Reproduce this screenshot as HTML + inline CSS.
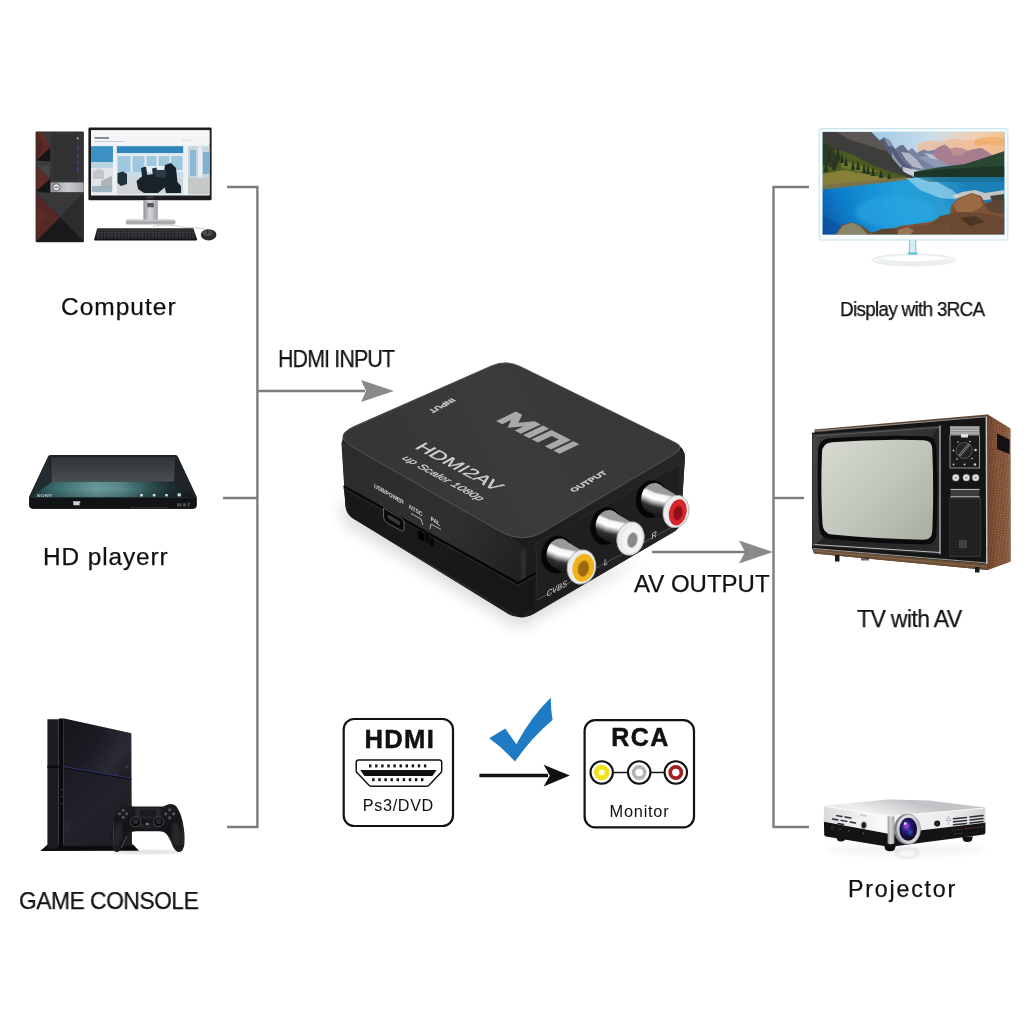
<!DOCTYPE html>
<html><head><meta charset="utf-8">
<style>
html,body{margin:0;padding:0;background:#fff;}
body{width:1024px;height:1024px;overflow:hidden;position:relative;font-family:"Liberation Sans",sans-serif;}
svg{position:absolute;left:0;top:0;will-change:transform;}
.t{position:absolute;will-change:transform;transform-origin:0 0;white-space:nowrap;color:#111;line-height:1;-webkit-text-stroke:0.25px #111;}
svg text{font-family:"Liberation Sans",sans-serif;}
</style></head><body>
<svg width="1024" height="1024" viewBox="0 0 1024 1024">
<defs>
<filter id="blur8" x="-30%" y="-100%" width="160%" height="300%"><feGaussianBlur stdDeviation="8"/></filter>
<filter id="blur3" x="-30%" y="-100%" width="160%" height="300%"><feGaussianBlur stdDeviation="3"/></filter>
<filter id="blur1" x="-10%" y="-10%" width="120%" height="120%"><feGaussianBlur stdDeviation="0.8"/></filter>
<linearGradient id="bxT" gradientUnits="userSpaceOnUse" x1="400" y1="500" x2="620" y2="390"><stop offset="0" stop-color="#363636"/><stop offset="0.5" stop-color="#3b3b3b"/><stop offset="1" stop-color="#383838"/></linearGradient>
<linearGradient id="bxL" gradientUnits="userSpaceOnUse" x1="345" y1="470" x2="520" y2="570"><stop offset="0" stop-color="#2c2c2c"/><stop offset="0.6" stop-color="#303030"/><stop offset="1" stop-color="#212121"/></linearGradient>
<linearGradient id="bxR" gradientUnits="userSpaceOnUse" x1="525" y1="580" x2="683" y2="490"><stop offset="0" stop-color="#1c1c1c"/><stop offset="1" stop-color="#262626"/></linearGradient>
<pattern id="wood" width="3" height="2.4" patternUnits="userSpaceOnUse" patternTransform="rotate(8)"><rect width="3" height="2.4" fill="#875438"/><rect width="1.6" height="1.1" fill="#9b6848"/><rect x="1.6" y="1.2" width="1.4" height="1.2" fill="#6e4129"/></pattern>
<linearGradient id="tvscr" gradientUnits="userSpaceOnUse" x1="830" y1="445" x2="930" y2="540"><stop offset="0" stop-color="#d4d8cf"/><stop offset="0.5" stop-color="#c1c6bc"/><stop offset="1" stop-color="#a9aea5"/></linearGradient>
<linearGradient id="tvbez" gradientUnits="userSpaceOnUse" x1="813" y1="430" x2="940" y2="555"><stop offset="0" stop-color="#3a3a3a"/><stop offset="0.5" stop-color="#232323"/><stop offset="1" stop-color="#2c2c2c"/></linearGradient>
<linearGradient id="tvside" gradientUnits="userSpaceOnUse" x1="987" y1="0" x2="1011" y2="0"><stop offset="0" stop-color="#000" stop-opacity="0.18"/><stop offset="0.5" stop-color="#000" stop-opacity="0"/><stop offset="1" stop-color="#fff" stop-opacity="0.12"/></linearGradient>
<pattern id="grille" width="1.6" height="1.6" patternUnits="userSpaceOnUse"><rect width="1.6" height="1.6" fill="#1d1d1d"/><rect width="0.8" height="0.8" fill="#2c2c2c"/></pattern>
<linearGradient id="psTop" gradientUnits="userSpaceOnUse" x1="63" y1="720" x2="131" y2="775"><stop offset="0" stop-color="#15151b"/><stop offset="0.45" stop-color="#1b1b23"/><stop offset="0.75" stop-color="#2a2a34"/><stop offset="1" stop-color="#1c1c24"/></linearGradient>
<linearGradient id="psBot" gradientUnits="userSpaceOnUse" x1="63" y1="770" x2="131" y2="845"><stop offset="0" stop-color="#1b1b23"/><stop offset="0.5" stop-color="#22222b"/><stop offset="1" stop-color="#1c1c24"/></linearGradient>
<linearGradient id="dsBody" gradientUnits="userSpaceOnUse" x1="111" y1="804" x2="111" y2="852"><stop offset="0" stop-color="#1c1c1e"/><stop offset="0.5" stop-color="#141416"/><stop offset="1" stop-color="#1e1e22"/></linearGradient>
<linearGradient id="bdTop" gradientUnits="userSpaceOnUse" x1="0" y1="456" x2="0" y2="482"><stop offset="0" stop-color="#303336"/><stop offset="1" stop-color="#4a4e51"/></linearGradient>
<linearGradient id="bdSlope" gradientUnits="userSpaceOnUse" x1="30" y1="0" x2="196" y2="0"><stop offset="0" stop-color="#1d3a3c"/><stop offset="0.15" stop-color="#3a6c6e"/><stop offset="0.4" stop-color="#6a9c9c"/><stop offset="0.55" stop-color="#5a8a8b"/><stop offset="0.7" stop-color="#33585a"/><stop offset="0.85" stop-color="#1c2e31"/><stop offset="1" stop-color="#151d20"/></linearGradient>
<linearGradient id="bdSlopeV" gradientUnits="userSpaceOnUse" x1="0" y1="481" x2="0" y2="498"><stop offset="0" stop-color="#000" stop-opacity="0.08"/><stop offset="0.5" stop-color="#000" stop-opacity="0"/><stop offset="1" stop-color="#000" stop-opacity="0.22"/></linearGradient>
<linearGradient id="pcSilver" gradientUnits="userSpaceOnUse" x1="50" y1="0" x2="84" y2="0"><stop offset="0" stop-color="#8e9094"/><stop offset="0.5" stop-color="#c9cbcf"/><stop offset="1" stop-color="#a6a8ac"/></linearGradient>
<linearGradient id="pcNeck" gradientUnits="userSpaceOnUse" x1="143" y1="0" x2="158" y2="0"><stop offset="0" stop-color="#8a8c8f"/><stop offset="0.45" stop-color="#d6d7d9"/><stop offset="1" stop-color="#9a9c9f"/></linearGradient>
<linearGradient id="kb" gradientUnits="userSpaceOnUse" x1="0" y1="228" x2="0" y2="241"><stop offset="0" stop-color="#2a2a2c"/><stop offset="1" stop-color="#101012"/></linearGradient>
<pattern id="keys" width="3.4" height="2.6" patternUnits="userSpaceOnUse" x="97" y="229.5"><rect width="2.6" height="1.9" fill="#3b3b3f"/></pattern>
<clipPath id="pcScr"><rect x="91" y="130.2" width="118.6" height="65.3"/></clipPath>
<clipPath id="monScr"><rect x="822.7" y="131.9" width="181.7" height="102.5"/></clipPath>
<linearGradient id="sky" gradientUnits="userSpaceOnUse" x1="870" y1="135" x2="1004" y2="150"><stop offset="0" stop-color="#9ec9e6"/><stop offset="0.45" stop-color="#c9dcea"/><stop offset="0.75" stop-color="#f0d0b4"/><stop offset="1" stop-color="#f3c48e"/></linearGradient>
<linearGradient id="lake" gradientUnits="userSpaceOnUse" x1="823" y1="234" x2="960" y2="170"><stop offset="0" stop-color="#0a55a4"/><stop offset="0.22" stop-color="#0e80cc"/><stop offset="0.55" stop-color="#1f9edb"/><stop offset="0.8" stop-color="#2a9bd0"/><stop offset="1" stop-color="#1c7fb8"/></linearGradient>
<filter id="blurp" x="-5%" y="-5%" width="110%" height="110%"><feGaussianBlur stdDeviation="0.7"/></filter>
<filter id="blur2" x="-20%" y="-20%" width="140%" height="140%"><feGaussianBlur stdDeviation="2"/></filter>
<linearGradient id="pjTop" gradientUnits="userSpaceOnUse" x1="900" y1="799" x2="895" y2="817"><stop offset="0" stop-color="#c2c3c6"/><stop offset="1" stop-color="#ececee"/></linearGradient>
<linearGradient id="pjL" gradientUnits="userSpaceOnUse" x1="824" y1="0" x2="890" y2="0"><stop offset="0" stop-color="#d9dadd"/><stop offset="0.6" stop-color="#f2f2f4"/><stop offset="1" stop-color="#fafafa"/></linearGradient>
<linearGradient id="pjR" gradientUnits="userSpaceOnUse" x1="893" y1="0" x2="986" y2="0"><stop offset="0" stop-color="#f4f4f5"/><stop offset="0.6" stop-color="#ebebed"/><stop offset="1" stop-color="#d2d3d6"/></linearGradient>
<linearGradient id="pjEdge" gradientUnits="userSpaceOnUse" x1="887" y1="0" x2="894.5" y2="0"><stop offset="0" stop-color="#8e9093"/><stop offset="0.5" stop-color="#d4d5d7"/><stop offset="1" stop-color="#9a9c9f"/></linearGradient>
<radialGradient id="pjLens" cx="0.42" cy="0.4" r="0.65"><stop offset="0" stop-color="#6b3fd0"/><stop offset="0.35" stop-color="#2a1a78"/><stop offset="0.7" stop-color="#140c3c"/><stop offset="1" stop-color="#0a0a14"/></radialGradient>
<linearGradient id="pjRing" gradientUnits="userSpaceOnUse" x1="897" y1="816" x2="920" y2="844"><stop offset="0" stop-color="#f4f4f6"/><stop offset="0.5" stop-color="#b9bbbf"/><stop offset="1" stop-color="#e6e6e9"/></linearGradient>

</defs>
<!-- lines.svg -->
<g id="lines" fill="none" stroke="#7d7d7d" stroke-width="2.4">
<path d="M227 187H257.4V827H227"/>
<path d="M223 498H257"/>
<path d="M257 391H365"/>
<path d="M809 187H773.5V827H809"/>
<path d="M773 498H804"/>
<path d="M652 552H745"/>
</g>
<g id="arrows" fill="#8a8a8a">
<path d="M361 380L394 391L361 402L366 391Z"/>
<path d="M739 540.5L773 552L739 563.5L745 552Z"/>
</g>

<!-- computer.svg -->
<g id="computer">
<!-- tower -->
<rect x="35.6" y="131.4" width="48.2" height="110.8" rx="1.2" fill="#2a2a2c"/>
<!-- upper left column triangles -->
<rect x="36.2" y="132" width="14.2" height="61" fill="#2e2e30"/>
<path d="M36.2 132.3H43.4L50.4 147.6L36.2 160.4Z" fill="#5c2b28"/>
<path d="M36.2 132.3L44 146L36.2 160.4Z" fill="#4a2322" opacity="0.7"/>
<path d="M43.4 132.3H50.4V147.6Z" fill="#3a3a3c"/>
<path d="M50.4 147.6V161.6L36.2 160.4Z" fill="#151517"/>
<path d="M36.2 160.4L50.4 161.6V165L36.2 165.3Z" fill="#3c3c3e"/>
<path d="M36.2 165.3L50.2 178.7L36.2 190.9Z" fill="#5c2b28"/>
<path d="M36.2 165.3L50.4 165V178.7Z" fill="#454547"/>
<path d="M50.4 178.7V193L36.2 190.9Z" fill="#151517"/>
<!-- drive panel -->
<rect x="50.4" y="132" width="33" height="50.4" fill="#363638"/>
<rect x="52.5" y="134" width="22" height="46" fill="#313133"/>
<path d="M75.8 132V182" stroke="#222" stroke-width="0.6"/>
<circle cx="77.6" cy="138.2" r="1" fill="#b8b8bc"/>
<g fill="#2d4a9a"><rect x="76.8" y="147" width="1.6" height="3.4"/><rect x="76.8" y="154" width="1.6" height="3.4"/><rect x="76.8" y="161" width="1.6" height="3.4"/><rect x="76.8" y="168" width="1.6" height="3.4"/></g>
<!-- silver band -->
<rect x="50.4" y="182.4" width="33.2" height="9.8" fill="url(#pcSilver)"/>
<circle cx="56.4" cy="187.3" r="3.6" fill="#dfe0e3" stroke="#55575a" stroke-width="0.8"/>
<path d="M54.4 187.3H58.4" stroke="#55575a" stroke-width="0.9"/>
<!-- lower X -->
<rect x="36.2" y="193" width="47.2" height="48.6" fill="#1c1c1e"/>
<path d="M36.2 193H83.4L60 217.5Z" fill="#39393b"/>
<path d="M36.2 193L60 217.5L36.2 241.6Z" fill="#552826"/>
<path d="M83.4 193L60 217.5L83.4 241.6Z" fill="#2c2c2e"/>
<path d="M36.2 241.6L60 217.5L83.4 241.6Z" fill="#19191b"/>
<path d="M36.2 205L48 217.5L36.2 230Z" fill="#63302c" opacity="0.4"/>
<!-- monitor -->
<rect x="88.4" y="127.6" width="123.2" height="72.6" rx="1.2" fill="#1d1d20"/>
<rect x="91" y="130.2" width="118.6" height="65.3" fill="#eef1f4"/>
<g clip-path="url(#pcScr)"><g filter="url(#blurp)">
<rect x="91" y="130.2" width="118.6" height="14" fill="#f4f5f7"/>
<rect x="94.5" y="137" width="14.5" height="2" fill="#8a8f96"/>
<rect x="94.5" y="141" width="30" height="1" fill="#c6cad0"/>
<rect x="182" y="139.5" width="10" height="1.6" fill="#dfe2e6"/>
<!-- left image -->
<rect x="91" y="146.2" width="22" height="47" fill="#dfe4e8"/>
<rect x="91" y="146.2" width="22" height="16" fill="#3c90c2"/>
<rect x="91" y="162" width="22" height="6" fill="#bcd4e2"/>
<path d="M93 172L99 168.5L104 171V179H93Z" fill="#c2c6ca"/>
<path d="M101 181L112 176V187H101Z" fill="#aeb6bc"/>
<rect x="92" y="186" width="20" height="6" fill="#8ea6b6" opacity="0.8"/>
<!-- centre image -->
<rect x="116.8" y="146.2" width="66.4" height="48" fill="#e4edf2"/>
<rect x="116.8" y="146.2" width="66.4" height="7" fill="#2f86bc"/>
<rect x="116.8" y="153.2" width="66.4" height="1.4" fill="#dce8ef"/>
<g fill="#9fc8df"><rect x="117.5" y="156" width="13" height="16"/><rect x="132.5" y="156" width="12" height="16"/><rect x="146.5" y="156" width="10" height="10"/><rect x="158.5" y="156" width="11" height="10"/><rect x="171" y="156" width="11.5" height="14"/></g>
<rect x="116.8" y="172" width="66.4" height="5" fill="#c6dce8"/>
<rect x="116.8" y="177" width="66.4" height="17.2" fill="#d0d6da"/>
<path d="M117.5 173L123 171.5L127 174V184L121 186L117.5 183Z" fill="#20303c"/>
<path d="M141 168L146 166.5L147.5 176H142Z" fill="#1c2a36"/>
<path d="M152 168.5L156.5 167.5L158 176H153Z" fill="#223240"/>
<path d="M136.5 181L143 175.5L153 174L163 177L166.5 186L158 193L144 193L138 189Z" fill="#1a222a"/>
<path d="M165 165L171 163L176 168L177.5 182L181 186V193H166L163 180Z" fill="#16202a"/>
<path d="M156 170H166V177H156Z" fill="#2a3a48"/>
<!-- right image -->
<rect x="188" y="146.2" width="21.6" height="48" fill="#c9d7e0"/>
<rect x="190" y="150" width="6" height="26" fill="#8fb8d4"/>
<rect x="198" y="147" width="4" height="30" fill="#e9eef2"/>
<rect x="203" y="152" width="6.6" height="22" fill="#7fb0d0"/>
<rect x="188" y="178" width="21.6" height="16.2" fill="#c4c8c6"/>
</g></g>
<rect x="146.5" y="196.4" width="7" height="2.2" fill="#3a3a3e"/>
<!-- stand -->
<rect x="143.4" y="200.2" width="14.4" height="20.5" fill="url(#pcNeck)"/>
<rect x="147.2" y="203" width="6.6" height="4.2" fill="#55575a"/>
<path d="M125.8 221.2Q125.8 219.4 128 219.4H173.2Q175.4 219.4 175.4 221.2V223Q175.4 224.6 173.2 224.6H128Q125.8 224.6 125.8 223Z" fill="#a9abae"/>
<path d="M126 220.2H175.2" stroke="#dadbdd" stroke-width="0.9"/>
<!-- keyboard -->
<path d="M97.2 228.2H193.4L197 239.2Q197.2 240.4 195.8 240.4H95.2Q94 240.4 94.2 239.2Z" fill="url(#kb)"/>
<path d="M98 229.5H192.8L195.3 238.4H96Z" fill="url(#keys)"/>
<!-- mouse -->
<path d="M153 226.5Q165 223 184 227.5Q200 227 207.5 230" stroke="#9a9a9a" stroke-width="0.5" fill="none"/>
<ellipse cx="208.6" cy="234.8" rx="7.8" ry="5.6" fill="#2b2b2e"/>
<ellipse cx="207.6" cy="233.2" rx="5.2" ry="3" fill="#4a4a4e"/>
<path d="M207.5 229.5V234" stroke="#1a1a1c" stroke-width="0.7"/>
</g>

<!-- bluray.svg -->
<g id="bluray">
<!-- outer body -->
<path d="M48 456.5Q48.3 455 50.5 455H175.5Q177.5 455 177.8 456.5L196.6 496.5V505Q196.6 508.8 192.5 508.8H33.5Q29.2 508.8 29.2 505V496.5Z" fill="#1d2225"/>
<!-- top flat -->
<path d="M51 457.2H175L174.2 481.8H51.6Z" fill="url(#bdTop)"/>
<!-- sloped front -->
<path d="M51.6 481.8H174.2L196 497.5H30Z" fill="url(#bdSlope)"/>
<path d="M51.6 481.8H174.2L196 497.5H30Z" fill="url(#bdSlopeV)"/>
<!-- side bevels -->
<path d="M48.5 456.5L51.6 481.8L30 497.5Z" fill="#252c2f"/>
<path d="M177.5 456.5L174.2 481.8L196 497.5Z" fill="#1e2427"/>
<!-- front vertical -->
<path d="M29.2 497.5H196.6V505Q196.6 508.8 192.5 508.8H33.5Q29.2 508.8 29.2 505Z" fill="#111315"/>
<path d="M29.5 497.6H196.4" stroke="#2b3436" stroke-width="0.7"/>
<!-- sony -->
<text x="36.5" y="497" font-size="4.2" font-weight="bold" fill="#b8c4c4" textLength="16" lengthAdjust="spacingAndGlyphs">SONY</text>
<!-- bluray logo -->
<path d="M73 501.2H79Q80.6 501.2 80.4 502.6Q80.2 503.6 79 503.8L80 505.2H73.5Z" fill="#cfd3d6"/>
<!-- buttons -->
<g fill="#d8e2e2"><rect x="140.2" y="494" width="2.6" height="2.4"/><rect x="152.8" y="494" width="2.6" height="2.4"/><rect x="165.2" y="494" width="2.6" height="2.4"/><rect x="177.6" y="493.4" width="3.2" height="3"/></g>
<!-- small details -->
<path d="M131 507.6H168" stroke="#60686a" stroke-width="0.7" stroke-dasharray="1.2 1.4"/>
<path d="M177 503.2H181.5V506.6H177ZM183 503.2H186V506.6H183ZM188 502.5L190 502.5L189 506.6H187.5Z" fill="#4a5052"/>
</g>

<!-- ps4.svg -->
<g id="ps4">
<!-- stand -->
<path d="M40.3 851L47.6 844.5H133L139 850.8Z" fill="#0b0b0e"/>
<!-- front narrow face -->
<path d="M47.4 719.2H58.8V848.5H47.4Z" fill="#1b1b22"/>
<rect x="47.4" y="765.8" width="12.6" height="2" fill="#08080b"/>
<!-- gap -->
<rect x="58.8" y="718.5" width="4.6" height="130" fill="#0a0a0d"/>
<!-- side upper (glossy) -->
<path d="M63.2 718.3L131.3 733.2L131.5 778.2L63.2 766.4Z" fill="url(#psTop)"/>
<path d="M78 721.6L131.3 733.2L131.4 760L100 726.5Z" fill="#2c2c38" opacity="0.35"/>
<!-- side lower (matte) -->
<path d="M63.2 766.4L131.5 778.2L132 846H63.2Z" fill="url(#psBot)"/>
<!-- seam -->
<path d="M63.2 766.6L131.5 778.3" stroke="#26276a" stroke-width="0.9"/>
<path d="M63.2 767.8L131.5 779.5" stroke="#0c0c12" stroke-width="1"/>
<!-- front details -->
<g fill="#3a3a48"><rect x="60.5" y="789" width="2" height="1.2"/><rect x="60.5" y="796" width="2" height="1.2"/><rect x="60.5" y="803" width="2" height="1.2"/></g>
<path d="M65.5 822V832M68 822V832" stroke="#33333f" stroke-width="0.9"/>
<rect x="125.5" y="765" width="3" height="3.5" fill="#3a3a4a" opacity="0.8"/>
<!-- controller -->
<g id="ds4">
<ellipse cx="148" cy="852" rx="36" ry="2.2" fill="#000" opacity="0.12" filter="url(#blur1)"/>
<path d="M121 806.2Q124.5 803.6 128.5 804.6L133 806.6H163L168.5 804.2Q172.5 803.2 176 806Q180.5 812 182.5 821Q185.2 833 184.4 844Q183.5 851.5 179.5 852Q175.5 852 173 846.5Q169.5 837.5 166 833.5Q163 830.8 158 831.2H137.5Q132 830.8 129.5 833.5Q126 837.5 122.5 846.5Q120 852 116.5 852Q112.3 851.5 111.4 844Q110.6 833 113.4 821Q115.5 812 121 806.2Z" fill="url(#dsBody)"/>
<ellipse cx="176.5" cy="834" rx="4.5" ry="12" fill="#2e2e36" opacity="0.7" filter="url(#blur1)" transform="rotate(-8 176.5 834)"/>
<ellipse cx="118" cy="834" rx="4" ry="12" fill="#2a2a32" opacity="0.7" filter="url(#blur1)" transform="rotate(8 118 834)"/>
<ellipse cx="147.5" cy="826" rx="12" ry="3" fill="#2a2a30" opacity="0.6" filter="url(#blur1)"/>
<!-- touchpad -->
<path d="M134.5 807.8H161.5L160.5 818.5H135.5Z" fill="#26262b"/>
<path d="M140 809.5H156V816.5H140Z" fill="#1b1b20"/>
<!-- sticks -->
<g><circle cx="135.6" cy="821.8" r="5" fill="#0a0a0c" stroke="#4a4a50" stroke-width="1"/><circle cx="135.6" cy="821.3" r="2.8" fill="#2a2a2f"/>
<circle cx="158.6" cy="821.8" r="5" fill="#0a0a0c" stroke="#4a4a50" stroke-width="1"/><circle cx="158.6" cy="821.3" r="2.8" fill="#2a2a2f"/></g>
<!-- dpad and buttons -->
<g fill="#55555c"><circle cx="123.2" cy="810.2" r="1.5"/><circle cx="119.6" cy="813.8" r="1.5"/><circle cx="126.6" cy="813.8" r="1.5"/><circle cx="123.2" cy="817.2" r="1.5"/>
<circle cx="169.6" cy="809.8" r="1.6"/><circle cx="165.6" cy="813.8" r="1.6"/><circle cx="173.6" cy="813.8" r="1.6"/><circle cx="169.6" cy="817.8" r="1.6"/></g>
<circle cx="147.3" cy="824" r="1.2" fill="#8a8a92"/>
<!-- highlights -->
<path d="M114 822Q112.5 834 113.8 845" stroke="#3c3c42" stroke-width="1" fill="none"/>
<path d="M127 836Q123.5 842 121.5 848" stroke="#55555c" stroke-width="0.9" fill="none"/>
<path d="M181.8 822Q183.6 834 182.6 845" stroke="#34343a" stroke-width="1" fill="none"/>
<path d="M168.5 836Q172 842 174 848" stroke="#3a3a40" stroke-width="0.9" fill="none"/>
</g>
</g>

<!-- box.svg -->
<g id="box">
<path d="M338 500L346 524L520 628L640 560L520 590Z" fill="#000" opacity="0.15" filter="url(#blur8)"/>
<path d="M342.0 444.8Q341.3 431.8 353.2 426.6L491.3 365.8Q505.9 359.4 520.3 366.4L674.7 442.2Q685.5 447.5 684.8 459.5L681.0 520.0Q680.5 528.0 673.6 532.0L534.3 613.4Q520.5 621.5 506.9 613.1L353.7 518.7Q346.0 514.0 345.5 505.0Z" fill="#1a1a1a"/>
<path d="M341.4 442.6Q341.3 441.6 342.2 442.1L517.3 541.0Q522.5 544.0 522.3 550.0L520.9 605.5Q520.5 621.5 506.9 613.1L353.7 518.7Q346.0 514.0 345.4 505.0Z" fill="url(#bxL)"/>
<path d="M522.3 550.0Q522.5 544.0 527.7 540.9L676.9 452.6Q685.5 447.5 684.9 457.5L681.0 520.0Q680.5 528.0 673.6 532.0L534.3 613.4Q520.5 621.5 520.9 605.5Z" fill="url(#bxR)"/>
<path d="M524.5 552L522 606" stroke="#444" stroke-width="9" opacity="0.5" stroke-linecap="round" filter="url(#blur3)"/>
<path d="M343.5 487L518 584L536 574L534 606Q526 612 520.5 616Q514 614 508 610L354 519Q346.5 514.5 346 508Z" fill="#151515" opacity="0.85"/>
<path d="M343.5 486L518 583L536 573" fill="none" stroke="#050505" stroke-width="2"/>
<path d="M343.5 488.5L518 585.5L536 575.5" fill="none" stroke="#3a3a3a" stroke-width="0.8" opacity="0.7"/>
<path d="M352.1 446.9Q333.0 436.0 353.1 427.1L491.3 365.9Q505.9 359.4 520.3 366.4L674.7 442.2Q685.5 447.5 675.2 453.6L543.2 531.8Q522.5 544.0 501.6 532.1Z" fill="url(#bxT)"/>
<path d="M352.1 446.9Q333.0 436.0 353.1 427.1L491.3 365.9Q505.9 359.4 520.3 366.4L674.7 442.2Q685.5 447.5 675.2 453.6L543.2 531.8Q522.5 544.0 501.6 532.1Z" fill="none" stroke="#6a6a6a" stroke-width="0.9" opacity="0.75"/>

<path d="M536 543L680 464.5L679.5 523L537 600Z" fill="#1f1f1f" stroke="#2e2e2e" stroke-width="0.8"/>
<path d="M537 600L679.5 523" stroke="#555" stroke-width="0.8" fill="none"/>
<ellipse cx="651.5" cy="499.0" rx="15.5" ry="19" transform="rotate(12 651.5 499.0)" fill="#060606"/>
<linearGradient id="g676" gradientUnits="userSpaceOnUse" x1="679.1" y1="496.8" x2="672.9" y2="526.2"><stop offset="0" stop-color="#9a9a9a"/><stop offset="0.07" stop-color="#f4f4f4"/><stop offset="0.24" stop-color="#ffffff"/><stop offset="0.33" stop-color="#bdbdbd"/><stop offset="0.42" stop-color="#6e6e6e"/><stop offset="0.5" stop-color="#2e2e2e"/><stop offset="0.8" stop-color="#161616"/><stop offset="0.9" stop-color="#4a4a4a"/><stop offset="1" stop-color="#8a8a8a"/></linearGradient>
<ellipse cx="653.5" cy="498.0" rx="12.3" ry="15" transform="rotate(12 653.5 498.0)" fill="url(#g676)"/>
<path d="M656.6 483.3L679.1 496.8L672.9 526.2L650.4 512.7Z" fill="url(#g676)"/>
<ellipse cx="676" cy="511.5" rx="12.9" ry="16.4" transform="rotate(12 676 511.5)" fill="#ececec" stroke="#a8a8a8" stroke-width="0.8"/>
<ellipse cx="677.9" cy="511.9" rx="8.7" ry="13.3" transform="rotate(12 676 511.5)" fill="#d8262f"/>
<ellipse cx="678.2" cy="512.7" rx="4.4" ry="7.2" transform="rotate(12 676 511.5)" fill="#8c1018" stroke="#b01820" stroke-width="0.8"/>
<ellipse cx="606.0" cy="526.0" rx="15.5" ry="19" transform="rotate(12 606.0 526.0)" fill="#060606"/>
<linearGradient id="g630" gradientUnits="userSpaceOnUse" x1="633.6" y1="523.8" x2="627.4" y2="553.2"><stop offset="0" stop-color="#9a9a9a"/><stop offset="0.07" stop-color="#f4f4f4"/><stop offset="0.24" stop-color="#ffffff"/><stop offset="0.33" stop-color="#bdbdbd"/><stop offset="0.42" stop-color="#6e6e6e"/><stop offset="0.5" stop-color="#2e2e2e"/><stop offset="0.8" stop-color="#161616"/><stop offset="0.9" stop-color="#4a4a4a"/><stop offset="1" stop-color="#8a8a8a"/></linearGradient>
<ellipse cx="608.0" cy="525.0" rx="12.3" ry="15" transform="rotate(12 608.0 525.0)" fill="url(#g630)"/>
<path d="M611.1 510.3L633.6 523.8L627.4 553.2L604.9 539.7Z" fill="url(#g630)"/>
<ellipse cx="630.5" cy="538.5" rx="13.6" ry="16.9" transform="rotate(12 630.5 538.5)" fill="#ececec" stroke="#a8a8a8" stroke-width="0.8"/>
<ellipse cx="632.4" cy="538.9" rx="9.7" ry="13.7" transform="rotate(12 630.5 538.5)" fill="#f4f4f4"/>
<ellipse cx="632.7" cy="539.7" rx="4.9" ry="7.6" transform="rotate(12 630.5 538.5)" fill="#8a8a8a" stroke="#b8b8b8" stroke-width="0.8"/>
<ellipse cx="557.0" cy="554.5" rx="15.5" ry="19" transform="rotate(12 557.0 554.5)" fill="#060606"/>
<linearGradient id="g581" gradientUnits="userSpaceOnUse" x1="584.6" y1="552.3" x2="578.4" y2="581.7"><stop offset="0" stop-color="#9a9a9a"/><stop offset="0.07" stop-color="#f4f4f4"/><stop offset="0.24" stop-color="#ffffff"/><stop offset="0.33" stop-color="#bdbdbd"/><stop offset="0.42" stop-color="#6e6e6e"/><stop offset="0.5" stop-color="#2e2e2e"/><stop offset="0.8" stop-color="#161616"/><stop offset="0.9" stop-color="#4a4a4a"/><stop offset="1" stop-color="#8a8a8a"/></linearGradient>
<ellipse cx="559.0" cy="553.5" rx="12.3" ry="15" transform="rotate(12 559.0 553.5)" fill="url(#g581)"/>
<path d="M562.1 538.8L584.6 552.3L578.4 581.7L555.9 568.2Z" fill="url(#g581)"/>
<ellipse cx="581.5" cy="567" rx="14.3" ry="17.3" transform="rotate(12 581.5 567)" fill="#ececec" stroke="#a8a8a8" stroke-width="0.8"/>
<ellipse cx="583.4" cy="567.4" rx="10.7" ry="14.1" transform="rotate(12 581.5 567)" fill="#f2b21c"/>
<ellipse cx="583.7" cy="568.2" rx="5.4" ry="8.0" transform="rotate(12 581.5 567)" fill="#9a6a10" stroke="#c98a10" stroke-width="0.8"/>
<g fill="#d8d8d8" font-size="8" font-style="italic">
<text transform="matrix(0.87 -0.49 0.05 1 547 597)" font-size="8.5">CVBS</text>
<text transform="matrix(0.87 -0.49 0.05 1 604 566)" font-size="8.5">L</text>
<text transform="matrix(0.87 -0.49 0.05 1 651.5 539.5)" font-size="8.5">R</text>
</g>
<g fill="#cfcfcf">
<text transform="matrix(0.86 0.50 -0.03 1 374 487.5)" font-size="6" font-weight="bold" letter-spacing="-0.3">USB/POWER</text>
<text transform="matrix(0.86 0.50 -0.03 1 409 508.5)" font-size="6" font-weight="bold" letter-spacing="-0.2">NTSC</text>
<text transform="matrix(0.86 0.50 -0.03 1 430.5 520.5)" font-size="6" font-weight="bold" letter-spacing="-0.2">PAL</text>
</g>
<path d="M383.5 508L401 518Q404 520 404 523L404 529Q404 532 401 530.5L388 523.5Q383.5 521 383.5 516Z" fill="#0a0a0a" stroke="#6a6a6a" stroke-width="0.9"/>
<path d="M388 514.5L400 521.5L400 525.5L388 518.5Z" fill="#3a3a3a"/>
<path d="M411 513.5L421 519L423 525" fill="none" stroke="#cfcfcf" stroke-width="0.8"/>
<path d="M441 529.5L431 524L430 529" fill="none" stroke="#cfcfcf" stroke-width="0.8"/>
<path d="M418 530L433 538.5L433.5 547L418.5 538.5Z" fill="#020202"/>
<path d="M424 531L430 534.5L430.5 545L424.5 541.5Z" fill="#0c0c0c" stroke="#2a2a2a" stroke-width="0.5"/>
<g fill="#d2d2d2" stroke="#d2d2d2" stroke-width="0.25">
<text transform="matrix(0.88 0.475 -0.86 0.50 414 447.7)" font-size="17.5" textLength="92" lengthAdjust="spacingAndGlyphs">HDMI2AV</text>
<text transform="matrix(0.88 0.48 -0.86 0.50 401.5 458.5)" font-size="10" font-style="italic" textLength="89" lengthAdjust="spacingAndGlyphs">up Scaler 1080p</text>
<text transform="matrix(0.87 -0.5 0.86 0.46 574 492.5)" font-size="8.2" font-weight="bold" textLength="39" lengthAdjust="spacingAndGlyphs">OUTPUT</text>
<text transform="matrix(-0.87 0.46 -0.86 -0.47 451.5 398)" font-size="8" font-weight="bold" textLength="27" lengthAdjust="spacingAndGlyphs">INPUT</text>
</g>
<g transform="matrix(0.889 0.458 -0.905 0.427 496 421)" fill="#a9a9a9">
<path d="M0 0V-22H7L14 -11L21 -22H28V0H21V-10L14 1L7 -10V0Z"/>
<rect x="30.5" y="-22" width="7" height="22"/>
<path d="M40 0V-22H62V0H55V-15.5H47V0Z"/>
<rect x="64.5" y="-22" width="7" height="22"/>
</g>
</g>
<!-- icons.svg -->
<g id="icons">
<!-- HDMI box -->
<rect x="343.7" y="719" width="109.3" height="107" rx="10.5" fill="#fff" stroke="#111" stroke-width="2.2"/>
<text x="364.4" y="748.4" font-size="25.6" font-weight="bold" fill="#111" stroke="#111" stroke-width="0.5" textLength="69.5" lengthAdjust="spacing">HDMI</text>
<path d="M358.6 759.9H439.3Q441.7 759.9 441.7 762.3V770.5Q441.7 772.3 440.3 773.3L429 785.2Q427.8 786.3 426 786.3H372Q370.2 786.3 369 785.2L357.6 773.3Q356.2 772.3 356.2 770.5V762.3Q356.2 759.9 358.6 759.9Z" fill="#fff" stroke="#111" stroke-width="1.5"/>
<path d="M360.2 769.9H436.6L432.4 775.9H364.4Z" fill="#111"/>
<g fill="#111">
<rect x="369" y="764.4" width="2.4" height="3"/><rect x="375.1" y="764.4" width="2.4" height="3"/><rect x="381.2" y="764.4" width="2.4" height="3"/><rect x="387.3" y="764.4" width="2.4" height="3"/><rect x="393.4" y="764.4" width="2.4" height="3"/><rect x="399.5" y="764.4" width="2.4" height="3"/><rect x="405.6" y="764.4" width="2.4" height="3"/><rect x="411.7" y="764.4" width="2.4" height="3"/><rect x="417.8" y="764.4" width="2.4" height="3"/><rect x="423.9" y="764.4" width="2.4" height="3"/>
<rect x="372.2" y="778.2" width="2.4" height="3"/><rect x="378.3" y="778.2" width="2.4" height="3"/><rect x="384.4" y="778.2" width="2.4" height="3"/><rect x="390.5" y="778.2" width="2.4" height="3"/><rect x="396.6" y="778.2" width="2.4" height="3"/><rect x="402.7" y="778.2" width="2.4" height="3"/><rect x="408.8" y="778.2" width="2.4" height="3"/><rect x="414.9" y="778.2" width="2.4" height="3"/><rect x="421" y="778.2" width="2.4" height="3"/>
</g>
<text x="362.8" y="811.3" font-size="16.2" fill="#111" textLength="70.5" lengthAdjust="spacing">Ps3/DVD</text>
<!-- check -->
<path d="M489.2 738.2L505.2 728.6Q510.5 736 516.4 744.2Q531 717 550.9 697.6Q550.6 709 552.6 720Q531 738 515 761.6Q503 748 489.2 738.2Z" fill="#1f7bc3"/>
<!-- arrow -->
<path d="M479.4 775.5H548" stroke="#111" stroke-width="3.3"/>
<path d="M543.6 764.8L569.8 775.5L543.6 786.6L549.8 775.5Z" fill="#111"/>
<!-- RCA box -->
<rect x="584.6" y="720.2" width="109.4" height="107.1" rx="10.5" fill="#fff" stroke="#111" stroke-width="2.2"/>
<text x="611.2" y="745.5" font-size="25" font-weight="bold" fill="#111" stroke="#111" stroke-width="0.5" textLength="57" lengthAdjust="spacing">RCA</text>
<path d="M613 772.5H628M651 772.5H664" stroke="#111" stroke-width="1.6"/>
<g fill="#fff" stroke="#111" stroke-width="2.1"><circle cx="601.7" cy="772.5" r="11.2"/><circle cx="639.2" cy="772.5" r="11.2"/><circle cx="675.8" cy="772.5" r="11.2"/></g>
<circle cx="601.7" cy="772.5" r="5.4" fill="#fffbd6" stroke="#f1e220" stroke-width="4.8"/>
<circle cx="639.2" cy="772.5" r="5.6" fill="#fff" stroke="#b4b4b4" stroke-width="3.6"/>
<circle cx="675.8" cy="772.5" r="5.6" fill="#fff" stroke="#a3201f" stroke-width="3.8"/>
<text x="609.6" y="816.6" font-size="16.4" fill="#111" textLength="59" lengthAdjust="spacing">Monitor</text>
</g>

<!-- monitor.svg -->
<g id="monitor">
<!-- base -->
<ellipse cx="913.8" cy="260" rx="42" ry="5.8" fill="#f3f5f6" stroke="#dfe5e8" stroke-width="0.8"/>
<ellipse cx="913.8" cy="261.5" rx="38" ry="3.6" fill="#e9edef" opacity="0.8"/>
<ellipse cx="913.8" cy="258.6" rx="30" ry="2.6" fill="#fff"/>
<!-- neck -->
<rect x="908.6" y="240" width="8" height="14.5" fill="#d8eef4"/>
<path d="M909.6 240V253.6M915.6 240V253.6" stroke="#7ccbe0" stroke-width="1"/>
<rect x="907.8" y="252.6" width="9.6" height="1.8" fill="#4db9d4"/>
<!-- frame -->
<rect x="819.2" y="128.6" width="188.7" height="111.4" rx="1.5" fill="#f6fafb" stroke="#bfe3ee" stroke-width="1"/>
<rect x="822.7" y="131.9" width="181.7" height="102.5" fill="#1a8fd0"/>
<g clip-path="url(#monScr)"><g filter="url(#blurp)">
<!-- sky -->
<rect x="860" y="130" width="146" height="50" fill="url(#sky)"/>
<path d="M918 144Q930 138 942 142Q952 136 966 141Q980 136 1004 146V155H918Z" fill="#f2b890" opacity="0.7"/>
<path d="M975 140Q990 134 1005 139V147Q990 142 975 146Z" fill="#f0a860" opacity="0.7"/>
<!-- distant mountains -->
<path d="M872 152L879 141L884 137.5L889 140L895 149L899 146L903 145L908 151L912 148L917 153L923 149.5L928 151L934 150L940 146.5L945 144.5L950 149L956 147.5L962 148.5L968 151L975 149L981 148L988 152L996 158L1004 160V176H872Z" fill="#76829f"/>
<path d="M936 149L940 146.5L945 144.5L950 149L956 147.5L962 148.5L968 151L975 149L981 148L988 152L996 158L980 163L950 165L930 160Z" fill="#b07c8c" opacity="0.85"/>
<path d="M950 149L956 147.5L962 148.5L968 151L960 156L952 155Z" fill="#d09a92" opacity="0.6"/>
<path d="M879 141L884 137.5L889 140L895 149L903 161L914 170L900 172L886 160Z" fill="#565d78"/>
<path d="M884 137.5L889 140L893 147L888 146Z" fill="#8a90a8"/>
<path d="M896 150L899 146L903 145L908 151L915 160L922 166L912 168L903 160Z" fill="#666e8a"/>
<path d="M901 152L906 160L913 167L924 169L917 160L909 153Z" fill="#c9cfdb" opacity="0.75"/>
<path d="M892 152L897 160L903 167L898 168L892 160Z" fill="#bcc2d0" opacity="0.55"/>
<path d="M918 157L934 167L950 166L940 160L928 156Z" fill="#8f98b6"/>
<path d="M924 153L930 158L938 160L932 154Z" fill="#dfe2ea" opacity="0.6"/>
<path d="M903 167L925 172L915 176L902 174Z" fill="#e8ebf0" opacity="0.75"/>
<!-- right forest hill -->
<path d="M914 172L935 168L965 164L990 156L1004.4 151V177H914Z" fill="#2b4733"/>
<path d="M914 172L935 170L965 168L1004.4 166V177H914Z" fill="#1c3625"/>
<!-- left mountain -->
<path d="M822 131H870L880 141L892 158L904 172L916 178L905 186H822Z" fill="#3e3d3a"/>
<path d="M835 131H870L880 141L888 152L870 146L850 140Z" fill="#5a5752"/>
<path d="M822 152L838 150L852 154L870 164L888 171L904 176L916 180L900 186L860 190L822 196Z" fill="#4d5c24"/>
<path d="M822 174L845 170L870 175L895 179L910 181L880 186L822 192Z" fill="#96893c" opacity="0.8"/><path d="M840 160L862 166L880 172L860 172L842 168Z" fill="#7f8234" opacity="0.7"/>
<path d="M822 140L832 148L840 160L836 168L822 165Z" fill="#2f3a24"/>
<g fill="#22351c"><path d="M881 169L883 178H879Z"/><path d="M889 172L891 180H887Z"/><path d="M842 152L844 163H840Z"/><path d="M858 160L860 170H856Z"/><path d="M868 164L870 174H866Z"/><path d="M834 158L836 170H832Z"/><path d="M826 160L828 172H824Z"/><path d="M838 147L840.5 160H835.5Z"/><path d="M846 156L848 166H844Z"/><path d="M853 160L855 170H851Z"/><path d="M864 163L866 173H862Z"/><path d="M873 166L875 176H871Z"/><path d="M829 150L831 162H827Z"/></g>
<path d="M822 185L860 181.5L905 177.5L916 180L905 182L860 186.5L822 190.5Z" fill="#7a7248"/>
<!-- lake -->
<path d="M822 189.5L860 185.5L905 180L916 177H1004.4V235H822Z" fill="url(#lake)"/>
<ellipse cx="895" cy="212" rx="40" ry="16" fill="#2fa9e4" opacity="0.55" filter="url(#blur2)"/>
<path d="M906 178H930L952 190L965 200L940 198L920 190Z" fill="#bfe6f6" opacity="0.55"/>
<path d="M916 177H1004.4V182H930Z" fill="#1f6d8c" opacity="0.7"/>
<path d="M822 214V235H856L838 224Z" fill="#084690" opacity="0.45"/>
<!-- right rocks & shore -->
<path d="M952 196L962 192L975 190L985 193L1004.4 190V198L985 200L965 202Z" fill="#e8d8c8" opacity="0.8"/>
<path d="M951 206L958 198L972 193L981 196L985 203L1004.4 198V235H880L900 226L930 222L950 214Z" fill="#7e5234"/>
<path d="M953 205L960 198L972 194L980 197L983 206L972 212L958 213Z" fill="#9a6a44"/>
<path d="M984 204L1004.4 198V214L990 212Z" fill="#5e4434"/>
<path d="M990 196L1004 194V200L992 201Z" fill="#4a4038"/>
<path d="M940 216L960 212L990 214L1004.4 218V235H920Z" fill="#6b4a30"/>
<path d="M960 218L975 216L985 222L970 226Z" fill="#3f2c20" opacity="0.7"/>
<!-- bottom shore rocks -->
<path d="M835 234.4L842 225L852 222L862 226L872 233L882 229L895 228L905 230L915 226L930 225L950 222V235H835Z" fill="#6d4e34"/>
<path d="M836 234.4L843 225.5L852 222.5L860 226L868 234.4Z" fill="#8a8668"/>
<path d="M872 233L882 229L893 229L898 234.4H872Z" fill="#5a4430"/>
<path d="M898 230L908 227L914 231L910 234.4H898Z" fill="#9a7454"/>
</g></g>
</g>

<!-- tv.svg -->
<g id="tv">
<!-- wood body -->
<path d="M814.5 429.6L987 414.6L1010.3 428.5L1010.5 561.5L987.5 570L814 553.5L812 548Z" fill="#5e4230"/>
<!-- side -->
<path d="M987 414L1010.3 428.5L1010.5 561.5L987.5 570Z" fill="url(#wood)"/>
<path d="M987 414L1010.3 428.5L1010.5 561.5L987.5 570Z" fill="url(#tvside)"/>
<path d="M997 433.5L1009.5 439.5L1009.5 454L997 449Z" fill="#121216"/>
<!-- bottom strip -->
<path d="M813 548L987 563.5L987.5 570L814 553.5Z" fill="#6a4e36"/>
<path d="M813.5 551L987.3 567" stroke="#a08060" stroke-width="0.8" opacity="0.7"/>
<!-- feet -->
<rect x="835" y="555" width="4.5" height="6.5" fill="#1a1a1a"/>
<rect x="975" y="567" width="4.5" height="5.5" fill="#1a1a1a"/>
<rect x="861" y="557.5" width="8" height="3" fill="#3a2a20" opacity="0.7"/>
<!-- front face -->
<path d="M812 432.8L986.5 416.6L987 564L812 548.8Z" fill="#151515"/>
<!-- top silver trim -->
<path d="M815 431L986 416.8" stroke="#8e8e8e" stroke-width="1"/>
<!-- bezel frame -->
<path d="M813 434.2L940 425.4L940 554.3L813 546.6Z" fill="url(#tvbez)"/>
<path d="M815.5 436L939 427.5" stroke="#9a9a9a" stroke-width="0.9" fill="none"/>
<path d="M940 425.4L940 554.3" stroke="#b8b8b8" stroke-width="1.3"/>
<path d="M813.5 544.5L940 552.5" stroke="#bdbdbd" stroke-width="1.2"/>
<path d="M813 548.5L987 563" stroke="#9c9c9c" stroke-width="1"/>
<path d="M813 434.2L813 546.6" stroke="#4a4a4a" stroke-width="1"/>
<path d="M813.5 435L823 444L823 538L813.5 546Z" fill="#4a4a4a" opacity="0.6"/>
<path d="M813.5 435L939.5 426L931 438L823 444Z" fill="#3c3c3c" opacity="0.6"/>
<!-- inner black -->
<path d="M818 452Q817.5 439 831 438.2Q877 434.5 926 436.2Q936 436.6 936.4 448Q938 490 936.4 533Q936 545 925 544.6Q877 543.5 830 539Q819.5 538 819 526Q817 488 818 452Z" fill="#0b0b0b"/>
<!-- screen -->
<path d="M822 453Q822 443 832 442.3Q877 438.8 924 440.2Q932 440.5 932.3 449Q934 490 932.3 531Q932 540 923 539.8Q877 539 832 534.6Q823 533.6 822.5 524Q820.5 488 822 453Z" fill="url(#tvscr)"/>
<!-- control panel -->
<path d="M986.3 416.6L986.8 564" stroke="#c4c4c4" stroke-width="1.4"/>
<rect x="950" y="426" width="29.5" height="9" fill="#8f8f8f"/>
<path d="M950 428H979.5M950 430.5H979.5M950 433H979.5" stroke="#c9c9c9" stroke-width="0.8"/>
<rect x="950" y="435" width="29.5" height="33" fill="#1b1b1b" stroke="#a0a0a0" stroke-width="0.9"/>
<rect x="961" y="434" width="7" height="3.5" fill="#e0e0e0"/>
<circle cx="964.3" cy="450.5" r="8" fill="#262626" stroke="#5e5e5e" stroke-width="0.8"/>
<path d="M960 455L968.5 445" stroke="#8a8a8a" stroke-width="2.6" stroke-linecap="round"/>
<path d="M960 455L968.5 445" stroke="#2a2a2a" stroke-width="1" stroke-linecap="round"/>
<g fill="#cfcfcf"><circle cx="953.5" cy="450.5" r="0.9"/><circle cx="975.5" cy="450" r="1.3"/><circle cx="970" cy="441.5" r="0.8"/><circle cx="958" cy="442" r="0.8"/><circle cx="953.5" cy="464.5" r="0.9"/><circle cx="964.5" cy="464.5" r="0.9"/><circle cx="975" cy="464.5" r="1.2"/><circle cx="972" cy="458.5" r="0.8"/><circle cx="957" cy="459" r="0.8"/></g>
<g stroke="#8a8a8a" stroke-width="0.6" fill="#e4e4e4"><circle cx="955.8" cy="477.7" r="3.4"/><circle cx="966.3" cy="477.7" r="3.4"/><circle cx="975.7" cy="477.7" r="3.4"/></g>
<g fill="#9a9a9a"><circle cx="955.8" cy="477.7" r="1.3"/><circle cx="966.3" cy="477.7" r="1.3"/><circle cx="975.7" cy="477.7" r="1.3"/></g>
<rect x="950.5" y="488.5" width="29" height="9.5" fill="#3c3c3c"/>
<path d="M950.5 489.5H979.5M950.5 496.8H979.5" stroke="#b5b5b5" stroke-width="1.1"/>
<rect x="950" y="498" width="30.5" height="58.5" fill="url(#grille)"/>
<rect x="950" y="498" width="30.5" height="58.5" fill="none" stroke="#3c3c3c" stroke-width="0.8"/>
<rect x="959.5" y="540.5" width="7" height="7.5" fill="#3f3f3f" stroke="#555" stroke-width="0.5"/>
</g>

<!-- projector.svg -->
<g id="projector">
<!-- reflection / shadow -->
<ellipse cx="905" cy="850" rx="80" ry="5" fill="#000" opacity="0.05" filter="url(#blur3)"/>
<ellipse cx="907" cy="853" rx="11" ry="5" fill="none" stroke="#c8c8cc" stroke-width="2.2" opacity="0.45" filter="url(#blur1)"/>
<!-- feet -->
<path d="M836 836H846L844.5 840.6Q841 842.6 837.5 840.6Z" fill="#111"/>
<path d="M884 845H896L894.5 850Q890 852.4 885.5 850Z" fill="#0e0e0e"/>
<path d="M962 836.5H973L971.5 841Q967.5 843 963.5 841Z" fill="#111"/>
<!-- black lower band -->
<path d="M823.9 821L889.8 833.2L985.4 822V832.5Q985.4 834 984 834.4L893 846.4Q890 847 887 846.4L826 836.6Q824.2 836.2 824.2 834.5Z" fill="#141416"/>
<!-- left white face -->
<path d="M823.9 808Q823.9 805.6 826 806L889.8 816.2V834L823.9 821.8Z" fill="url(#pjL)"/>
<!-- right white face -->
<path d="M889.8 816.2L985.4 807.8V822.8L889.8 834Z" fill="url(#pjR)"/>
<!-- top -->
<path d="M825 805.6L888 799.6Q890 799.4 892 799.5L929 800.4L985 807.4Q986 807.8 984.5 808L890.5 816.4Q889.8 816.5 889 816.3L825 806.3Q823.8 805.9 825 805.6Z" fill="url(#pjTop)"/>
<path d="M826 806.4L889.8 816.4L984.6 808" fill="none" stroke="#fff" stroke-width="0.9" opacity="0.9"/>
<!-- corner silver band -->
<path d="M887.6 816.2H894.4V843.5Q891 844.8 887.6 843.4Z" fill="url(#pjEdge)"/>
<!-- vents left -->
<g stroke="#2a2a2e" stroke-width="1.3" stroke-linecap="round"><path d="M836.5 815.6L842 816.5M845 817L851 818M832.5 819L838 820M841 820.4L847 821.4M850 822L855.5 823M838 823.5L843.5 824.5"/></g>
<!-- knob -->
<ellipse cx="863.8" cy="825.2" rx="2.6" ry="3.4" fill="#1c1c1f" stroke="#9a9ca0" stroke-width="0.8"/>
<rect x="860.2" y="814.6" width="6.5" height="1.6" fill="#c5c7cc" transform="rotate(9 863 815)"/>
<!-- band dots -->
<g fill="#5a5a5e"><circle cx="832" cy="827.8" r="0.8"/><circle cx="840" cy="829.3" r="0.8"/><circle cx="849" cy="830.8" r="0.8"/><circle cx="863.5" cy="833.4" r="0.9"/><circle cx="966" cy="828.6" r="0.8"/><circle cx="982" cy="826.6" r="0.8"/></g>
<path d="M952 830.4L964 829M968 828.5L980 827.1M954 834L963 833" stroke="#5a2a2a" stroke-width="0.8"/>
<!-- lens -->
<ellipse cx="907" cy="829.2" rx="13" ry="15.2" fill="#7d7f84"/>
<ellipse cx="908.6" cy="829.2" rx="12" ry="14.8" fill="url(#pjRing)" stroke="#8d8f94" stroke-width="0.6"/>
<ellipse cx="908.2" cy="829.2" rx="8.8" ry="11.4" fill="url(#pjLens)"/>
<ellipse cx="906" cy="825.5" rx="3" ry="3.6" fill="#b05ad8" opacity="0.55" filter="url(#blur1)"/>
<ellipse cx="910.5" cy="832.5" rx="2.4" ry="3" fill="#2a6ae0" opacity="0.6" filter="url(#blur1)"/>
<ellipse cx="905.2" cy="823.6" rx="1.2" ry="1.5" fill="#fff" opacity="0.85"/>
<!-- IR -->
<circle cx="937.2" cy="823.6" r="3" fill="#17171a"/>
<circle cx="937.2" cy="823.6" r="1.5" fill="#2c2c32"/>
<!-- small icon -->
<path d="M948.5 816.5L951 820.5H946ZM948.5 821.5V825" stroke="#9a9aa0" stroke-width="0.7" fill="none"/>
<!-- vents right -->
<g stroke="#2e2e32" stroke-width="1.5" stroke-linecap="round"><path d="M953.5 818.8L966.5 817.4M953.5 821.8L966.5 820.4M953.5 824.8L966.5 823.4M970 817L983 815.6M970 820L983 818.6M970 823L983 821.6"/></g>
</g>

</svg>
<div class="t" id="t1" style="left:61.2px;top:295.3px;font-size:24.5px;letter-spacing:1px;">Computer</div>
<div class="t" id="t2" style="left:278px;top:346.6px;font-size:24.4px;letter-spacing:-1px;transform:scaleX(0.878);">HDMI INPUT</div>
<div class="t" id="t3" style="left:43.2px;top:545px;font-size:24.4px;letter-spacing:0.9px;">HD playerr</div>
<div class="t" id="t4" style="left:18.8px;top:888.7px;font-size:24px;letter-spacing:-0.5px;transform:scaleX(0.95);">GAME CONSOLE</div>
<div class="t" id="t5" style="left:633.7px;top:571.8px;font-size:24px;">AV OUTPUT</div>
<div class="t" id="t6" style="left:840.1px;top:299.4px;font-size:20.5px;letter-spacing:-0.8px;transform:scaleX(0.925);">Display with 3RCA</div>
<div class="t" id="t7" style="left:857px;top:606.5px;font-size:24.7px;letter-spacing:-0.7px;transform:scaleX(0.933);">TV with AV</div>
<div class="t" id="t8" style="left:847.6px;top:878.1px;font-size:23.2px;letter-spacing:1.8px;">Projector</div>

</body></html>
